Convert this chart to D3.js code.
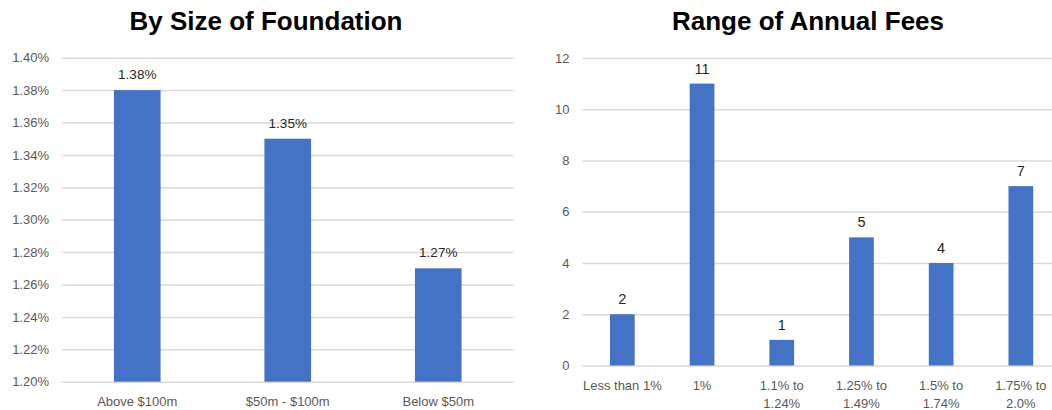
<!DOCTYPE html>
<html>
<head>
<meta charset="utf-8">
<script src="https://cdn.jsdelivr.net/npm/d3@7"></script>
<style>
  html, body { margin: 0; padding: 0; background: #ffffff; }
  svg { display: block; }
  .tick text { font-family: "Liberation Sans", Arial, sans-serif; fill: #595959; }
</style>
</head>
<body>
<svg id="chart" width="1052" height="410"></svg>
<script>
// Average annual fee by foundation size (percent)
const sizeCategories = ["Above $100m", "$50m - $100m", "Below $50m"];
const sizeFees = [1.38, 1.35, 1.27];
const sizeTicks = [1.20, 1.22, 1.24, 1.26, 1.28, 1.30, 1.32, 1.34, 1.36, 1.38, 1.40];

// Number of foundations in each annual-fee range
const feeRanges = [["Less than 1%"], ["1%"], ["1.1% to", "1.24%"], ["1.25% to", "1.49%"], ["1.5% to", "1.74%"], ["1.75% to", "2.0%"]];
const feeCounts = [2, 11, 1, 5, 4, 7];
const countTicks = [0, 2, 4, 6, 8, 10, 12];

const titles = ["By Size of Foundation", "Range of Annual Fees"];

const BAR = "#4472C4";
const GRID = "#d9d9d9";
const FONT = "'Liberation Sans', Arial, sans-serif";

const svg = d3.select("#chart");

function drawPanel(opts) {
  const g = svg.append("g");
  const x = d3.scaleBand()
    .domain(opts.categories.map((d, i) => i))
    .range([opts.left, opts.right])
    .paddingInner(0.69)
    .paddingOuter(0.345);
  const y = d3.scaleLinear().domain(opts.domain).range([opts.bottom, opts.top]);

  // value axis with full-width gridlines
  const yAxis = g.append("g")
    .attr("transform", `translate(${opts.left},0)`)
    .call(d3.axisLeft(y).tickValues(opts.ticks).tickFormat(opts.tickFormat)
      .tickSize(-(opts.right - opts.left)).tickPadding(opts.tickPad));
  yAxis.select(".domain").remove();
  yAxis.selectAll(".tick line").attr("stroke", GRID).attr("stroke-width", 1.5);
  yAxis.selectAll(".tick text").attr("font-size", "13px");

  // bars
  g.selectAll("rect.bar").data(opts.values).join("rect")
    .attr("class", "bar")
    .attr("x", (d, i) => x(i))
    .attr("width", x.bandwidth())
    .attr("y", d => y(d))
    .attr("height", d => y(opts.domain[0]) - y(d))
    .attr("fill", BAR);

  // value labels
  g.selectAll("text.val").data(opts.values).join("text")
    .attr("class", "val")
    .attr("x", (d, i) => x(i) + x.bandwidth() / 2)
    .attr("y", d => y(d) - opts.valGap)
    .attr("text-anchor", "middle")
    .attr("font-family", FONT)
    .attr("font-size", opts.valSize)
    .attr("fill", "#262626")
    .text(opts.valFormat);

  // category labels (possibly on two lines)
  const cats = g.selectAll("text.cat").data(opts.categories).join("text")
    .attr("class", "cat")
    .attr("text-anchor", "middle")
    .attr("font-family", FONT)
    .attr("font-size", "13px")
    .attr("fill", "#595959");
  cats.each(function(lines, i) {
    const t = d3.select(this);
    const arr = Array.isArray(lines) ? lines : [lines];
    arr.forEach((ln, k) => {
      t.append("tspan")
        .attr("x", x(i) + x.bandwidth() / 2)
        .attr("y", opts.catY + k * 18)
        .text(ln);
    });
  });

  // title
  svg.append("text")
    .attr("x", opts.titleX)
    .attr("y", 30)
    .attr("text-anchor", "middle")
    .attr("font-family", FONT)
    .attr("font-weight", "bold")
    .attr("font-size", "26px")
    .attr("fill", "#000")
    .text(opts.title);
}

drawPanel({
  categories: sizeCategories,
  values: sizeFees,
  ticks: sizeTicks,
  domain: [1.20, 1.40],
  tickFormat: d => d.toFixed(2) + "%",
  valFormat: d => d.toFixed(2) + "%",
  left: 62, right: 513.5, top: 57.7, bottom: 381.7,
  tickPad: 13, valGap: 11, valSize: "13.5px",
  catY: 406, title: titles[0], titleX: 266
});

drawPanel({
  categories: feeRanges,
  values: feeCounts,
  ticks: countTicks,
  domain: [0, 12],
  tickFormat: d3.format("d"),
  valFormat: d => d,
  left: 582.5, right: 1060.7, top: 58, bottom: 365.5,
  tickPad: 13, valGap: 10, valSize: "14.5px",
  catY: 390, title: titles[1], titleX: 808
});
</script>
</body>
</html>
